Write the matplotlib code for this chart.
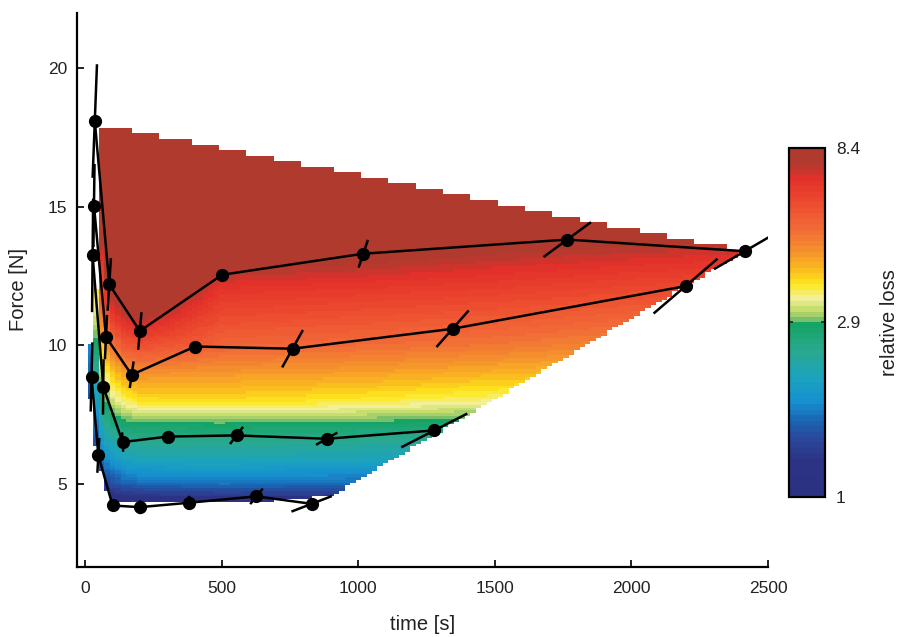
import numpy as np
import matplotlib
matplotlib.use("Agg")
import matplotlib.pyplot as plt
from matplotlib.colors import LinearSegmentedColormap, LogNorm
from matplotlib.ticker import NullLocator

plt.rcParams['font.family'] = ['Liberation Sans', 'DejaVu Sans']

# ---------------- series (time [s], force [N]) ----------------
A_t = [35, 88, 200, 501, 1018, 1765, 2415]
A_F = [18.1, 12.2, 10.52, 12.55, 13.31, 13.82, 13.4]
B_t = [32, 76, 170, 402, 759, 1345, 2198]
B_F = [15.05, 10.3, 8.94, 9.96, 9.88, 10.6, 12.14]
C_t = [27, 66, 137, 304, 554, 884, 1278]
C_F = [13.25, 8.5, 6.51, 6.71, 6.75, 6.63, 6.93]
D_t = [23, 48, 100, 200, 380, 627, 829]
D_F = [8.86, 6.03, 4.22, 4.16, 4.32, 4.55, 4.28]

# half extents of the oriented segment through each point
A_dt = [8, 6, 6, 4, 17, 87, 113]
A_dF = [2.05, 0.95, 0.68, 0.15, 0.5, 0.63, 0.65]
B_dt = [2, 4, 7, 4, 38, 59, 117]
B_dF = [1.5, 0.8, 0.48, 0.15, 0.675, 0.66, 0.99]
C_dt = [2, 1, -2, 5, 24, 39, 121]
C_dF = [2.05, 1.0, 0.35, 0.2, 0.31, 0.22, 0.61]
D_dt = [3, 3.6, 2, 1, 0.5, 23, 74]
D_dF = [1.25, 0.63, 0.15, 0.25, 0.25, 0.28, 0.28]

# ---------------- relative-loss field (read at nodes) ----------------
grid_t = [20, 40, 60, 80, 100, 140, 200, 500, 1000, 1500, 2000, 2400]
grid_F = [4, 5, 6, 7, 8, 9, 10, 11, 12, 13, 14, 16, 18]
loss_t20 = [1.0, 1.1, 1.2, 1.3, 1.45, 1.6, 1.75, 2.0, 2.4, 2.9, 3.4, 4.5, 5.5]
loss_t40 = [1.0, 1.15, 1.35, 1.65, 2.0, 2.35, 2.8, 3.2, 3.6, 4.0, 4.6, 6.0, 7.0]
loss_t60 = [1.0, 1.3, 1.7, 2.1, 2.6, 3.1, 3.9, 4.8, 5.8, 6.8, 8.0, 10, 11]
loss_t80 = [1.0, 1.4, 1.85, 2.35, 2.9, 3.6, 4.6, 5.8, 7.0, 8.5, 10, 11, 12]
loss_t100 = [1.0, 1.45, 1.95, 2.5, 3.2, 3.9, 5.0, 6.5, 8.0, 10, 11, 12, 12]
loss_t140 = [0.95, 1.55, 2.1, 2.65, 3.45, 4.3, 5.6, 7.2, 9.0, 11, 12, 12, 12]
loss_t200 = [0.95, 1.6, 2.2, 2.7, 3.7, 4.5, 5.9, 7.8, 9.5, 11, 12, 12, 12]
loss_t500 = [0.95, 1.65, 2.2, 2.72, 3.75, 4.4, 5.3, 6.0, 6.8, 8.0, 9.5, 11, 12]
loss_t1000 = [0.95, 1.6, 2.15, 2.68, 3.6, 4.3, 5.1, 5.8, 6.6, 7.7, 9.0, 10.5, 12]
loss_t1500 = [0.95, 1.55, 2.1, 2.6, 3.4, 4.1, 4.9, 5.6, 6.4, 7.3, 8.4, 10, 12]
loss_t2000 = [0.95, 1.5, 2.05, 2.5, 3.25, 3.9, 4.6, 5.3, 6.1, 7.0, 8.1, 9.5, 12]
loss_t2400 = [0.95, 1.5, 2.0, 2.45, 3.15, 3.8, 4.4, 5.1, 5.9, 6.8, 7.9, 9.2, 12]
loss_rows = [loss_t20, loss_t40, loss_t60, loss_t80, loss_t100, loss_t140,
             loss_t200, loss_t500, loss_t1000, loss_t1500, loss_t2000, loss_t2400]

# region boundaries of the field
upper_t = [20, 170, 267, 394, 493, 596, 698, 797, 902, 1003, 1104, 1206, 1308,
           1404, 1506, 1610, 1710, 1811, 1915, 2037, 2140, 2238, 2342]
upper_F = [17.84, 17.64, 17.46, 17.22, 17.01, 16.82, 16.60, 16.42, 16.22, 16.02,
           15.81, 15.62, 15.42, 15.27, 15.09, 14.87, 14.63, 14.43, 14.21, 14.05,
           13.89, 13.67, 13.46]
lower_t = [100, 500, 700, 900, 2400]
lower_F = [4.3, 4.35, 4.4, 4.55, 13.3]
left_F = [4.2, 5.0, 6.0, 7.0, 8.0, 10.0, 10.2, 12.0, 18.0]
left_t = [100, 70, 45, 30, 20, 20, 40, 40, 50]
t_end = 2400

cbar_ticks = [1, 2.9, 8.4]
cbar_labels = ['1', '2.9', '8.4']
x_ticks = [0, 500, 1000, 1500, 2000, 2500]
y_ticks = [5, 10, 15, 20]

# ---------------- colormap ----------------
cm_pos = [0.0, 0.10, 0.16, 0.21, 0.27, 0.34, 0.42, 0.495, 0.51, 0.54, 0.57,
          0.61, 0.65, 0.70, 0.77, 0.85, 0.92, 0.96, 1.0]
cm_col = ['#2c3282', '#2c3385', '#2b469a', '#1b62b0', '#1790d0', '#1ca3bd',
          '#2aa98e', '#14a464', '#88c46a', '#c6de6c', '#f2ef9e', '#fde81c',
          '#fbbf1f', '#f5962b', '#f16b37', '#ec4a2f', '#e3302a', '#b03a2e', '#b03a2e']
cmap = LinearSegmentedColormap.from_list('loss', list(zip(cm_pos, cm_col)), N=64)
cmap.set_under(cm_col[0])
cmap.set_over(cm_col[-1])

# ---------------- build cells ----------------
t_edges = np.arange(10, t_end + 11, 20)
F_edges = np.arange(4.05, 18.06, 0.1)
tc = 0.5 * (t_edges[:-1] + t_edges[1:])
Fc = 0.5 * (F_edges[:-1] + F_edges[1:])
logrows = np.log(np.array(loss_rows))
along_F = np.array([np.interp(Fc, grid_F, r) for r in logrows])
field = np.array([np.interp(tc, grid_t, along_F[:, j]) for j in range(len(Fc))])
field = np.exp(field)
TT, FF = np.meshgrid(tc, Fc)
idx = np.clip(np.searchsorted(upper_t, TT, side='right') - 1, 0, len(upper_t) - 1)
Fmax = np.array(upper_F)[idx]
Fmin = np.interp(TT, lower_t, lower_F)
Tmin = np.interp(FF, left_F, left_t)
mask = (FF > Fmax) | (FF < Fmin) | (TT < Tmin) | (TT > t_end)
field = np.ma.array(field, mask=mask)

# ---------------- figure ----------------
fig = plt.figure(figsize=(8.99, 6.37), dpi=100)
ax = fig.add_axes([0.0857, 0.1099, 0.7686, 0.8697])
norm = LogNorm(vmin=1, vmax=8.4)
mesh = ax.pcolormesh(t_edges, F_edges, field, cmap=cmap, norm=norm,
                     shading='flat', zorder=1)

for ts, Fs, dts, dFs in [(A_t, A_F, A_dt, A_dF), (B_t, B_F, B_dt, B_dF),
                         (C_t, C_F, C_dt, C_dF), (D_t, D_F, D_dt, D_dF)]:
    ax.plot(ts, Fs, color='black', lw=1.8, zorder=3, solid_capstyle='butt')
    for t0, F0, dt0, dF0 in zip(ts, Fs, dts, dFs):
        ax.plot([t0 - dt0, t0 + dt0], [F0 - dF0, F0 + dF0], color='black',
                lw=1.8, zorder=3, solid_capstyle='butt')
    ax.plot(ts, Fs, 'o', color='black', ms=8.5, zorder=4)

ax.set_xlim(-30, 2500)
ax.set_ylim(2, 22)
ax.set_xticks(x_ticks)
ax.set_yticks(y_ticks)
for s in ['top', 'right']:
    ax.spines[s].set_visible(False)
for s in ['left', 'bottom']:
    ax.spines[s].set_linewidth(1.6)
ax.tick_params(direction='in', length=5, width=1.4, labelsize=12.5, colors='#222222')
ax.tick_params(axis='x', pad=10)
ax.tick_params(axis='y', pad=7)
ax.set_xlabel('time [s]', fontsize=14.5, labelpad=14, color='#222222')
ax.set_ylabel('Force [N]', fontsize=14.5, labelpad=14, color='#222222')

cax = fig.add_axes([0.8777, 0.2198, 0.040, 0.548])
cb = fig.colorbar(mesh, cax=cax, ticks=cbar_ticks)
cb.ax.yaxis.set_minor_locator(NullLocator())
cb.ax.set_yticklabels(cbar_labels)
cb.ax.tick_params(which='both', direction='in', left=True, right=True,
                  length=3, width=1.2, labelsize=12.5, colors='#222222', pad=8)
cb.outline.set_linewidth(1.6)
cb.set_label('relative loss', fontsize=14.5, labelpad=14, color='#222222')

fig.savefig('out.png', dpi=100)
